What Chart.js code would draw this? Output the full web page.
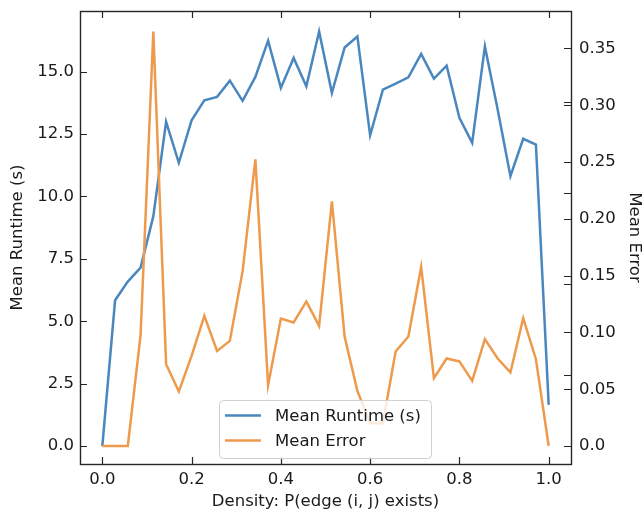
<!DOCTYPE html>
<html>
<head>
<meta charset="utf-8">
<script src="https://cdn.jsdelivr.net/npm/chart.js@4.4.1/dist/chart.umd.min.js"></script>
<style>
  html, body { margin: 0; padding: 0; background: #fff; }
</style>
</head>
<body>
<canvas id="chart" width="644" height="512"></canvas>
<script>
// --- Data ---
const DENSITY = [0, 0.0286, 0.0571, 0.0857, 0.1143, 0.1429, 0.1714, 0.2, 0.2286, 0.2571,
  0.2857, 0.3143, 0.3429, 0.3714, 0.4, 0.4286, 0.4571, 0.4857, 0.5143, 0.5429,
  0.5714, 0.6, 0.6286, 0.6571, 0.6857, 0.7143, 0.7429, 0.7714, 0.8, 0.8286,
  0.8571, 0.8857, 0.9143, 0.9429, 0.9714, 1.0];

const RUNTIME = [0, 5.84, 6.59, 7.15, 9.21, 12.99, 11.35, 13.05, 13.85, 13.99,
  14.64, 13.83, 14.79, 16.24, 14.35, 15.55, 14.41, 16.61, 14.15, 15.97,
  16.41, 12.45, 14.28, 14.52, 14.77, 15.71, 14.72, 15.24, 13.15, 12.15,
  16.01, 13.48, 10.81, 12.31, 12.08, 1.65];

const ERROR = [0, 0, 0, 0.0976, 0.365, 0.0721, 0.0481, 0.0794, 0.1146, 0.0838,
  0.0926, 0.154, 0.2524, 0.0536, 0.1123, 0.1088, 0.1273, 0.1058, 0.2155, 0.0961,
  0.0486, 0.02, 0.02, 0.0833, 0.0965, 0.1577, 0.0598, 0.0771, 0.0745, 0.0574,
  0.0941, 0.0771, 0.0648, 0.1126, 0.0765, 0];

const X_TICKS = [0, 0.2, 0.4, 0.6, 0.8, 1.0];
const X_LABELS = ['0.0', '0.2', '0.4', '0.6', '0.8', '1.0'];
const LEFT_TICKS = [0, 2.5, 5, 7.5, 10, 12.5, 15];
const LEFT_LABELS = ['0.0', '2.5', '5.0', '7.5', '10.0', '12.5', '15.0'];
const RIGHT_TICKS = [0, 0.05, 0.1, 0.15, 0.2, 0.25, 0.3, 0.35];
const RIGHT_LABELS = ['0.0', '0.05', '0.10', '0.15', '0.20', '0.25', '0.30', '0.35'];
// stray unlabeled tick marks on the right spine
const RIGHT_EXTRA_TICKS = [0.0625, 0.1426, 0.2227, 0.3028];

const BLUE = '#4a87bf';
const ORANGE = '#ee9a4c';
const TEXT = '#1a1a1a';
const FONT = { family: 'DejaVu Sans', size: 16.5 };

// --- Spines and inward tick marks ---
const frameTicks = {
  id: 'frameTicks',
  afterDatasetsDraw(chart) {
    const { ctx, chartArea: a, scales } = chart;
    const len = 7;
    ctx.save();
    ctx.strokeStyle = '#262626';
    ctx.lineWidth = 1.2;
    ctx.beginPath();
    for (const v of X_TICKS) {
      const x = Math.round(scales.x.getPixelForValue(v)) + 0.5;
      ctx.moveTo(x, a.bottom); ctx.lineTo(x, a.bottom - len);
      ctx.moveTo(x, a.top); ctx.lineTo(x, a.top + len);
    }
    for (const v of LEFT_TICKS) {
      const y = Math.round(scales.y.getPixelForValue(v)) + 0.5;
      ctx.moveTo(a.left, y); ctx.lineTo(a.left + len, y);
    }
    for (const v of RIGHT_TICKS.concat(RIGHT_EXTRA_TICKS)) {
      const y = Math.round(scales.y1.getPixelForValue(v)) + 0.5;
      ctx.moveTo(a.right, y); ctx.lineTo(a.right - len, y);
    }
    ctx.stroke();
    ctx.lineWidth = 1.4;
    ctx.strokeRect(Math.round(a.left) + 0.5, Math.round(a.top) + 0.5,
      Math.round(a.right - a.left), Math.round(a.bottom - a.top));
    ctx.restore();
  },
};

// --- Legend drawn inside the plot area ---
const innerLegend = {
  id: 'innerLegend',
  afterDraw(chart) {
    const { ctx } = chart;
    const x0 = 219.5, y0 = 400.5, w = 212, h = 58, r = 4;
    ctx.save();
    ctx.beginPath();
    ctx.roundRect(x0, y0, w, h, r);
    ctx.fillStyle = 'rgba(255,255,255,0.8)';
    ctx.fill();
    ctx.strokeStyle = '#d0d0d0';
    ctx.lineWidth = 1;
    ctx.stroke();
    ctx.font = `${FONT.size}px ${FONT.family}`;
    ctx.textBaseline = 'middle';
    chart.data.datasets.forEach((ds, i) => {
      const y = 415.5 + i * 25;
      ctx.strokeStyle = ds.borderColor;
      ctx.lineWidth = 2.5;
      ctx.beginPath();
      ctx.moveTo(225, y); ctx.lineTo(261, y);
      ctx.stroke();
      ctx.fillStyle = TEXT;
      ctx.fillText(ds.label, 275, y + 1);
    });
    ctx.restore();
  },
};

// drop the label-overflow padding Chart.js adds, so the plot box is fixed
function noEdgePadding(s) {
  s.paddingTop = 0; s.paddingBottom = 0;
  s.paddingLeft = 0; s.paddingRight = 0;
}

new Chart(document.getElementById('chart'), {
  type: 'line',
  data: {
    datasets: [
      {
        label: 'Mean Runtime (s)',
        data: DENSITY.map((d, i) => ({ x: d, y: RUNTIME[i] })),
        borderColor: BLUE,
        borderWidth: 2.5,
        pointRadius: 0,
        tension: 0,
        yAxisID: 'y',
        order: 1,
      },
      {
        label: 'Mean Error',
        data: DENSITY.map((d, i) => ({ x: d, y: ERROR[i] })),
        borderColor: ORANGE,
        borderWidth: 2.5,
        pointRadius: 0,
        tension: 0,
        yAxisID: 'y1',
        order: 0,
      },
    ],
  },
  options: {
    responsive: false,
    animation: false,
    devicePixelRatio: 1,
    layout: { padding: { top: 11, left: 0, right: 0, bottom: 0 } },
    plugins: {
      legend: { display: false },
      tooltip: { enabled: false },
    },
    scales: {
      x: {
        type: 'linear',
        min: -0.05,
        max: 1.05,
        afterBuildTicks: (s) => { s.ticks = X_TICKS.map(v => ({ value: v })); },
        afterFit: (s) => { s.height = 48; noEdgePadding(s); },
        ticks: {
          font: FONT, color: TEXT, padding: 6, maxRotation: 0, autoSkip: false,
          callback: (v) => X_LABELS[X_TICKS.indexOf(v)],
        },
        grid: { display: false, drawTicks: false },
        border: { display: false },
        title: {
          display: true, text: 'Density: P(edge (i, j) exists)',
          font: FONT, color: TEXT, padding: { top: 0, bottom: 0 },
        },
      },
      y: {
        position: 'left',
        min: -0.72,
        max: 17.43,
        afterBuildTicks: (s) => { s.ticks = LEFT_TICKS.map(v => ({ value: v })); },
        afterFit: (s) => { s.width = 80; noEdgePadding(s); },
        ticks: {
          font: FONT, color: TEXT, padding: 6,
          callback: (v) => LEFT_LABELS[LEFT_TICKS.indexOf(v)],
        },
        grid: { display: false, drawTicks: false },
        border: { display: false },
        title: {
          display: true, text: 'Mean Runtime (s)',
          font: FONT, color: TEXT, padding: { top: 8, bottom: 0 },
        },
      },
      y1: {
        position: 'right',
        min: -0.0158,
        max: 0.383,
        afterBuildTicks: (s) => { s.ticks = RIGHT_TICKS.map(v => ({ value: v })); },
        afterFit: (s) => { s.width = 73; noEdgePadding(s); },
        ticks: {
          font: FONT, color: TEXT, padding: 8,
          callback: (v) => RIGHT_LABELS[RIGHT_TICKS.indexOf(v)],
        },
        grid: { display: false, drawTicks: false },
        border: { display: false },
        title: {
          display: true, text: 'Mean Error',
          font: FONT, color: TEXT, padding: { top: 0, bottom: 0 },
        },
      },
    },
  },
  plugins: [frameTicks, innerLegend],
});
</script>
</body>
</html>
